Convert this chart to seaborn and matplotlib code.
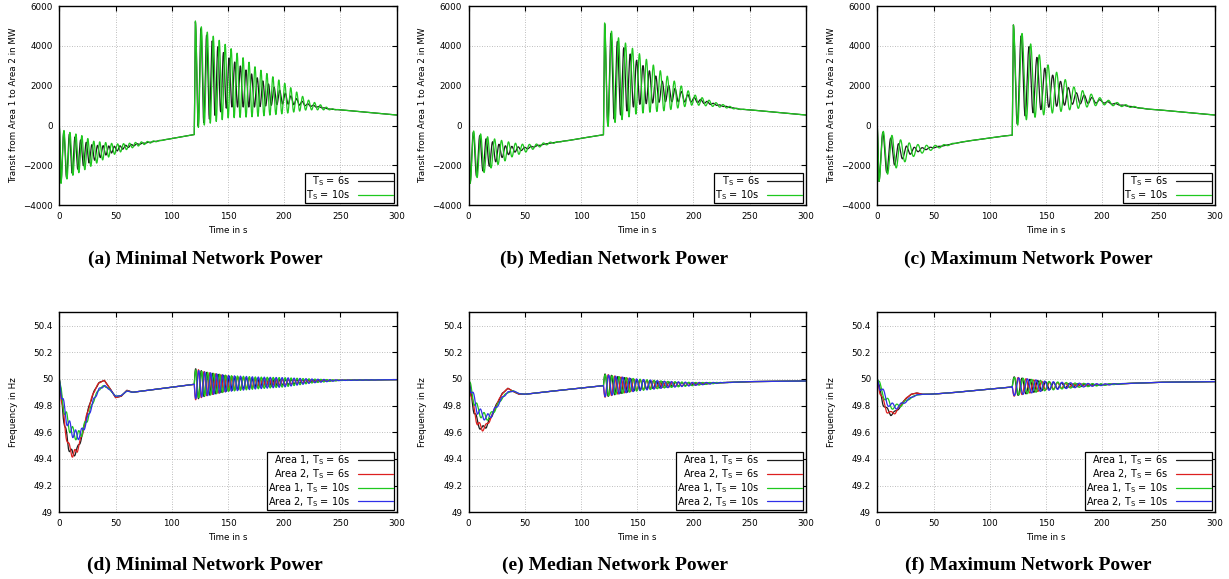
import numpy as np
import pandas as pd
import seaborn as sns
import matplotlib.pyplot as plt
from matplotlib.ticker import FuncFormatter

# ---- data ---------------------------------------------------------------
# knot times (s)
tp_pre = [0, 1.5, 10, 20, 30, 40, 50, 60, 70, 80, 90, 100, 110, 119.5]
tp_post = [120, 121, 130, 150, 175, 200, 220, 240, 250, 300]

# transit power (MW): centre line and half peak-to-peak swing, rows = (a), (b), (c)
transit_mean_pre = [
    [0, -1550, -1450, -1400, -1380, -1260, -1170, -1050, -930, -840, -750, -650, -550, -450],
    [0, -1550, -1450, -1380, -1300, -1200, -1150, -1030, -900, -820, -740, -640, -550, -460],
    [0, -1500, -1400, -1350, -1250, -1180, -1100, -1000, -880, -780, -700, -620, -540, -480],
]
transit_amp6_pre = [
    [0, 1300, 1000, 650, 400, 250, 130, 70, 30, 10, 0, 0, 0, 0],
    [0, 1300, 950, 600, 300, 150, 60, 20, 0, 0, 0, 0, 0, 0],
    [0, 1300, 850, 400, 170, 70, 25, 0, 0, 0, 0, 0, 0, 0],
]
transit_amp10_pre = [
    [0, 1350, 1100, 900, 600, 420, 250, 150, 100, 50, 15, 0, 0, 0],
    [0, 1350, 1050, 750, 550, 330, 200, 100, 60, 20, 0, 0, 0, 0],
    [0, 1300, 1000, 650, 350, 200, 100, 50, 15, 0, 0, 0, 0, 0],
]
transit_mean_post = [
    [-450, 2550, 2400, 2180, 1680, 1370, 1050, 830, 790, 530],
    [-460, 2500, 2350, 2150, 1650, 1300, 1050, 830, 790, 530],
    [-480, 2450, 2400, 1850, 1380, 1200, 1000, 830, 790, 530],
]
transit_amp6_post = [
    [0, 2650, 2200, 1250, 750, 280, 60, 0, 0, 0],
    [0, 2600, 2000, 1100, 450, 120, 30, 0, 0, 0],
    [0, 2600, 1950, 950, 300, 60, 10, 0, 0, 0],
]
transit_amp10_post = [
    [0, 2700, 2350, 1800, 1230, 770, 265, 40, 0, 0],
    [0, 2650, 2200, 1550, 900, 260, 100, 20, 0, 0],
    [0, 2600, 2150, 1280, 550, 150, 60, 0, 0, 0],
]

# oscillation periods (s), per column
period_6s = [5.0, 5.7, 7.0]
period_10s = [5.3, 6.2, 7.7]

# frequency (Hz), rows = (d), (e), (f)
tf_pre = [0, 2, 5, 8, 12, 16, 20, 25, 30, 35, 40, 45, 50, 55, 60, 65, 119.5]
tf_post = [120, 130, 150, 175, 200, 225, 250, 300]

freq_mean6_pre = [
    [50.0, 49.85, 49.64, 49.50, 49.43, 49.47, 49.57, 49.75, 49.89, 49.97, 49.99, 49.93, 49.86, 49.87, 49.915, 49.90, 49.96],
    [50.0, 49.90, 49.76, 49.67, 49.625, 49.65, 49.71, 49.81, 49.89, 49.93, 49.905, 49.885, 49.885, 49.89, 49.895, 49.90, 49.95],
    [50.0, 49.92, 49.83, 49.77, 49.74, 49.75, 49.79, 49.85, 49.885, 49.895, 49.885, 49.885, 49.887, 49.89, 49.893, 49.896, 49.94],
]
freq_mean10_pre = [
    [50.0, 49.88, 49.75, 49.66, 49.60, 49.57, 49.60, 49.70, 49.83, 49.92, 49.95, 49.92, 49.87, 49.875, 49.91, 49.90, 49.96],
    [50.0, 49.93, 49.84, 49.77, 49.73, 49.71, 49.73, 49.79, 49.86, 49.90, 49.91, 49.89, 49.885, 49.89, 49.895, 49.90, 49.95],
    [50.0, 49.95, 49.90, 49.84, 49.80, 49.79, 49.80, 49.83, 49.86, 49.88, 49.885, 49.885, 49.887, 49.89, 49.893, 49.896, 49.94],
]
freq_amp6_pre = [
    [0, 0.04, 0.035, 0.03, 0.025, 0.02, 0.015, 0.01, 0.006, 0.003, 0, 0, 0, 0, 0, 0, 0],
    [0, 0.03, 0.03, 0.025, 0.02, 0.015, 0.01, 0.006, 0.003, 0, 0, 0, 0, 0, 0, 0, 0],
    [0, 0.025, 0.025, 0.02, 0.015, 0.01, 0.006, 0.003, 0, 0, 0, 0, 0, 0, 0, 0, 0],
]
freq_amp10_pre = [
    [0, 0.04, 0.045, 0.045, 0.04, 0.035, 0.03, 0.02, 0.014, 0.008, 0.005, 0.003, 0, 0, 0, 0, 0],
    [0, 0.035, 0.04, 0.035, 0.03, 0.025, 0.02, 0.012, 0.007, 0.004, 0.002, 0, 0, 0, 0, 0, 0],
    [0, 0.03, 0.03, 0.03, 0.025, 0.02, 0.014, 0.008, 0.004, 0.002, 0, 0, 0, 0, 0, 0, 0],
]
freq_mean_post = [
    [49.96, 49.962, 49.966, 49.97, 49.975, 49.985, 49.99, 49.995],
    [49.95, 49.952, 49.955, 49.958, 49.962, 49.972, 49.98, 49.985],
    [49.943, 49.945, 49.948, 49.952, 49.957, 49.967, 49.975, 49.98],
]
freq_amp6_post = [
    [0.12, 0.09, 0.055, 0.035, 0.02, 0.008, 0, 0],
    [0.09, 0.07, 0.04, 0.02, 0.008, 0, 0, 0],
    [0.075, 0.06, 0.03, 0.012, 0.003, 0, 0, 0],
]
freq_amp10_post = [
    [0.11, 0.09, 0.06, 0.045, 0.035, 0.015, 0.002, 0],
    [0.085, 0.07, 0.045, 0.025, 0.012, 0.002, 0, 0],
    [0.07, 0.06, 0.035, 0.018, 0.006, 0, 0, 0],
]

captions_top = ["(a) Minimal Network Power", "(b) Median Network Power", "(c) Maximum Network Power"]
captions_bottom = ["(d) Minimal Network Power", "(e) Median Network Power", "(f) Maximum Network Power"]
lbl6 = r"T$_\mathrm{S}$ = 6s"
lbl10 = r"T$_\mathrm{S}$ = 10s"

# ---- build curves ---------------------------------------------------------
t = np.arange(0, 300.001, 0.05)
pre = t < 120


def transit(i, amp_pre, amp_post, period):
    m = np.where(pre, np.interp(t, tp_pre, transit_mean_pre[i]), np.interp(t, tp_post, transit_mean_post[i]))
    a = np.where(pre, np.interp(t, tp_pre, amp_pre[i]), np.interp(t, tp_post, amp_post[i]))
    ph = np.where(pre, -np.cos(2 * np.pi * (t - 1.5) / period), np.cos(2 * np.pi * (t - 121) / period))
    return m + a * ph


def freq(i, mean_pre, amp_pre, amp_post, period, sign):
    m = np.where(pre, np.interp(t, tf_pre, mean_pre[i]), np.interp(t, tf_post, freq_mean_post[i]))
    a = np.where(pre, np.interp(t, tf_pre, amp_pre[i]), np.interp(t, tf_post, amp_post[i]))
    ph = np.where(pre, np.sin(2 * np.pi * t / period), np.sin(2 * np.pi * (t - 120) / period))
    return m + sign * a * ph


# ---- plotting -------------------------------------------------------------
sns.set_theme(style="white")
plt.rcParams["font.family"] = ["DejaVu Sans"]
plt.rcParams["mathtext.fontset"] = "dejavusans"
plt.rcParams["text.color"] = "black"
plt.rcParams["axes.labelcolor"] = "black"

W, H = 1229, 579
fig = plt.figure(figsize=(W / 100, H / 100), dpi=100)

lefts = [59.3, 468.5, 877.3]
cap_x = [205, 614.5, 1028]
aw = 337.4
fs = 6.3
lfs = 7
c_black, c_red, c_green, c_blue = "#1c1c1c", "#dd2020", "#1ec81e", "#3030e8"


def style(ax, ylab):
    ax.set_xlim(0, 300)
    ax.set_xticks(range(0, 301, 50))
    ax.grid(True, color="#a8a8a8", lw=0.6, ls=(0, (1, 2)))
    ax.tick_params(direction="in", top=True, right=True, length=3.5, width=0.8,
                   labelsize=fs, colors="black", pad=4.5)
    for s in ax.spines.values():
        s.set_linewidth(1.0)
        s.set_color("black")
    ax.set_xlabel("Time in s", fontsize=fs)
    ax.xaxis.set_label_coords(0.5, -0.105)
    ax.set_ylabel(ylab, fontsize=fs)
    ax.yaxis.set_label_coords(-0.122, 0.5)


def legend(ax):
    lg = ax.legend(loc="lower right", markerfirst=False, fontsize=lfs, fancybox=False,
                   edgecolor="black", framealpha=1, handlelength=3.6, labelspacing=0.02,
                   borderpad=0.12, borderaxespad=0.25, handletextpad=0.8)
    lg.get_frame().set_linewidth(0.9)


for i in range(3):
    # transit panels
    ax = fig.add_axes([lefts[i] / W, 1 - 205.3 / H, aw / W, 199.3 / H])
    y6 = transit(i, transit_amp6_pre, transit_amp6_post, period_6s[i])
    y10 = transit(i, transit_amp10_pre, transit_amp10_post, period_10s[i])
    sns.lineplot(x=t, y=y6, ax=ax, color=c_black, lw=0.9, label=lbl6, estimator=None, sort=False)
    sns.lineplot(x=t, y=y10, ax=ax, color=c_green, lw=0.9, label=lbl10, estimator=None, sort=False)
    ax.set_ylim(-4000, 6000)
    ax.set_yticks(range(-4000, 6001, 2000))
    style(ax, "Transit from Area 1 to Area 2 in MW")
    legend(ax)
    fig.text(cap_x[i] / W, 1 - 259 / H, captions_top[i], ha="center", va="center",
             family="Liberation Serif", weight="bold", fontsize=14)

    # frequency panels
    ax = fig.add_axes([lefts[i] / W, 1 - 512.3 / H, aw / W, 200 / H])
    curves = [
        (freq(i, freq_mean6_pre, freq_amp6_pre, freq_amp6_post, period_6s[i], 1), c_black, "Area 1, " + lbl6),
        (freq(i, freq_mean6_pre, freq_amp6_pre, freq_amp6_post, period_6s[i], -1), c_red, "Area 2, " + lbl6),
        (freq(i, freq_mean10_pre, freq_amp10_pre, freq_amp10_post, period_10s[i], 1), c_green, "Area 1, " + lbl10),
        (freq(i, freq_mean10_pre, freq_amp10_pre, freq_amp10_post, period_10s[i], -1), c_blue, "Area 2, " + lbl10),
    ]
    for y, c, lab in curves:
        sns.lineplot(x=t, y=y, ax=ax, color=c, lw=0.9, label=lab, estimator=None, sort=False)
    ax.set_ylim(49, 50.5)
    ax.set_yticks([49, 49.2, 49.4, 49.6, 49.8, 50, 50.2, 50.4])
    ax.yaxis.set_major_formatter(FuncFormatter(lambda v, p: "%g" % round(v, 1)))
    style(ax, "Frequency in Hz")
    legend(ax)
    fig.text(cap_x[i] / W, 1 - 565 / H, captions_bottom[i], ha="center", va="center",
             family="Liberation Serif", weight="bold", fontsize=14)

fig.savefig("out.png", dpi=100)
